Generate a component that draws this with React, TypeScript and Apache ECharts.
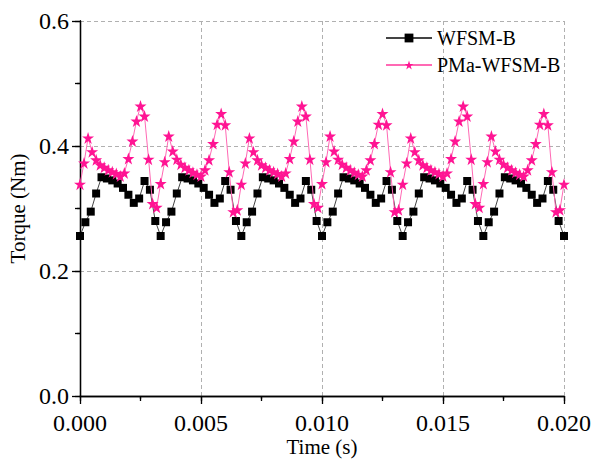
import React, { useEffect, useRef } from "react";
import * as echarts from "echarts";

// Axis tick labels
const xTickLabels = ["0.000", "0.005", "0.010", "0.015", "0.020"];
const yTickLabels = ["0.0", "0.2", "0.4", "0.6"];

// Time span of the two traces (s)
const timeStart = 0;
const timeEnd = 0.02;

// WFSM-B torque (Nm), 91 uniformly spaced samples over 0..0.02 s
const wfsmB = [
  0.256, 0.278, 0.295, 0.324, 0.350, 0.348, 0.345, 0.340, 0.333, 0.322, 0.309, 0.316, 0.344, 0.330, 0.280,
  0.256, 0.278, 0.295, 0.324, 0.350, 0.348, 0.345, 0.340, 0.333, 0.322, 0.309, 0.316, 0.344, 0.330, 0.280,
  0.256, 0.278, 0.295, 0.324, 0.350, 0.348, 0.345, 0.340, 0.333, 0.322, 0.309, 0.316, 0.344, 0.330, 0.280,
  0.256, 0.278, 0.295, 0.324, 0.350, 0.348, 0.345, 0.340, 0.333, 0.322, 0.309, 0.316, 0.344, 0.330, 0.280,
  0.256, 0.278, 0.295, 0.324, 0.350, 0.348, 0.345, 0.340, 0.333, 0.322, 0.309, 0.316, 0.344, 0.330, 0.280,
  0.256, 0.278, 0.295, 0.324, 0.350, 0.348, 0.345, 0.340, 0.333, 0.322, 0.309, 0.316, 0.344, 0.330, 0.280,
  0.256,
];

// PMa-WFSM-B torque (Nm), 121 uniformly spaced samples over 0..0.02 s
const pmaWfsmB = [
  0.339, 0.373, 0.413, 0.391, 0.378, 0.370, 0.366, 0.362, 0.359, 0.356, 0.352, 0.357, 0.380, 0.408, 0.440, 0.464, 0.448, 0.379, 0.308, 0.302,
  0.340, 0.375, 0.416, 0.392, 0.379, 0.371, 0.366, 0.362, 0.358, 0.355, 0.352, 0.362, 0.378, 0.404, 0.435, 0.452, 0.434, 0.359, 0.295, 0.298,
  0.339, 0.373, 0.413, 0.391, 0.378, 0.370, 0.366, 0.362, 0.359, 0.356, 0.352, 0.357, 0.380, 0.408, 0.440, 0.464, 0.448, 0.379, 0.308, 0.302,
  0.340, 0.375, 0.416, 0.392, 0.379, 0.371, 0.366, 0.362, 0.358, 0.355, 0.352, 0.362, 0.378, 0.404, 0.435, 0.452, 0.434, 0.359, 0.295, 0.298,
  0.339, 0.373, 0.413, 0.391, 0.378, 0.370, 0.366, 0.362, 0.359, 0.356, 0.352, 0.357, 0.380, 0.408, 0.440, 0.464, 0.448, 0.379, 0.308, 0.302,
  0.340, 0.375, 0.416, 0.392, 0.379, 0.371, 0.366, 0.362, 0.358, 0.355, 0.352, 0.362, 0.378, 0.404, 0.435, 0.452, 0.434, 0.359, 0.295, 0.298,
  0.339,
];

const seriesNames = ["WFSM-B", "PMa-WFSM-B"];

const STAR =
  "path://M50,0 L61.8,35.4 L99,35.4 L69,57.3 L80.3,92.7 L50,70.8 L19.7,92.7 L31,57.3 L1,35.4 L38.2,35.4 Z";

const FONT = '"Liberation Serif", "Times New Roman", serif';

function toPairs(values: number[]): [number, number][] {
  const n = values.length - 1;
  return values.map((v, i) => [timeStart + ((timeEnd - timeStart) * i) / n, v]);
}

export default function App() {
  const ref = useRef<HTMLDivElement>(null);

  useEffect(() => {
    if (!ref.current) return;
    const chart = echarts.init(ref.current, null, { renderer: "svg" });
    const xMin = parseFloat(xTickLabels[0]);
    const xMax = parseFloat(xTickLabels[xTickLabels.length - 1]);
    const xInt = parseFloat(xTickLabels[1]) - xMin;
    const yMin = parseFloat(yTickLabels[0]);
    const yMax = parseFloat(yTickLabels[yTickLabels.length - 1]);
    const yInt = parseFloat(yTickLabels[1]) - yMin;

    const axisLine = { show: true, lineStyle: { color: "#000", width: 1.3 } };
    const grid = {
      left: 80,
      right: 28,
      top: 21,
      bottom: 63,
      containLabel: false,
      outerBoundsMode: "none",
    };

    chart.setOption({
      animation: false,
      backgroundColor: "#fff",
      grid,
      legend: {
        data: seriesNames,
        orient: "vertical",
        left: 380,
        top: 23,
        itemWidth: 46,
        itemHeight: 11,
        itemGap: 7,
        textStyle: { fontFamily: FONT, fontSize: 20, color: "#000" },
      },
      xAxis: [
        {
          type: "value",
          min: xMin,
          max: xMax,
          interval: xInt,
          position: "bottom",
          name: "Time (s)",
          nameLocation: "middle",
          nameGap: 40,
          nameMoveOverlap: false,
          nameTextStyle: { fontFamily: FONT, fontSize: 21, lineHeight: 21, color: "#000" },
          axisLine,
          axisTick: { show: true, inside: false, length: 8, lineStyle: { color: "#000", width: 1.3 } },
          minorTick: { show: true, splitNumber: 2, length: 5, lineStyle: { color: "#000", width: 1.3 } },
          axisLabel: {
            margin: 15,
            fontFamily: FONT,
            fontSize: 24,
            color: "#000",
            formatter: (v: number) => v.toFixed(3),
          },
          splitLine: { show: true, lineStyle: { color: "#b0b0b0", type: [4, 3], width: 1 } },
        },
        {
          type: "value",
          min: xMin,
          max: xMax,
          interval: xInt,
          position: "top",
          axisLine,
          axisTick: { show: true, inside: true, length: 5, lineStyle: { color: "#000", width: 1.3 } },
          minorTick: { show: true, splitNumber: 2, length: 3, lineStyle: { color: "#000", width: 1.3 } },
          axisLabel: { show: false },
          splitLine: { show: false },
        },
      ],
      yAxis: [
        {
          type: "value",
          min: yMin,
          max: yMax,
          interval: yInt,
          position: "left",
          name: "Torque (Nm)",
          nameLocation: "middle",
          nameGap: 52,
          nameMoveOverlap: false,
          nameTextStyle: { fontFamily: FONT, fontSize: 21, color: "#000" },
          axisLine,
          axisTick: { show: true, inside: false, length: 8, lineStyle: { color: "#000", width: 1.3 } },
          minorTick: { show: true, splitNumber: 2, length: 5, lineStyle: { color: "#000", width: 1.3 } },
          axisLabel: {
            margin: 11,
            fontFamily: FONT,
            fontSize: 24,
            color: "#000",
            formatter: (v: number) => v.toFixed(1),
          },
          splitLine: { show: true, lineStyle: { color: "#b0b0b0", type: [4, 3], width: 1 } },
        },
        {
          type: "value",
          min: yMin,
          max: yMax,
          interval: yInt,
          position: "right",
          axisLine,
          axisTick: { show: true, inside: true, length: 5, lineStyle: { color: "#000", width: 1.3 } },
          minorTick: { show: true, splitNumber: 2, length: 3, lineStyle: { color: "#000", width: 1.3 } },
          axisLabel: { show: false },
          splitLine: { show: false },
        },
      ],
      series: [
        {
          name: seriesNames[0],
          type: "line",
          data: toPairs(wfsmB),
          symbol: "rect",
          symbolSize: 8,
          showAllSymbol: true,
          itemStyle: { color: "#000" },
          lineStyle: { color: "#444", width: 1 },
          z: 2,
        },
        {
          name: seriesNames[1],
          type: "line",
          data: toPairs(pmaWfsmB),
          symbol: STAR,
          symbolSize: 12,
          showAllSymbol: true,
          itemStyle: { color: "#FF1493" },
          lineStyle: { color: "#FF69B4", width: 1 },
          z: 3,
        },
      ],
    });
    return () => chart.dispose();
  }, []);

  return (
    <div
      ref={ref}
      style={{ position: "fixed", left: 0, top: 0, width: 592, height: 459 }}
    />
  );
}
